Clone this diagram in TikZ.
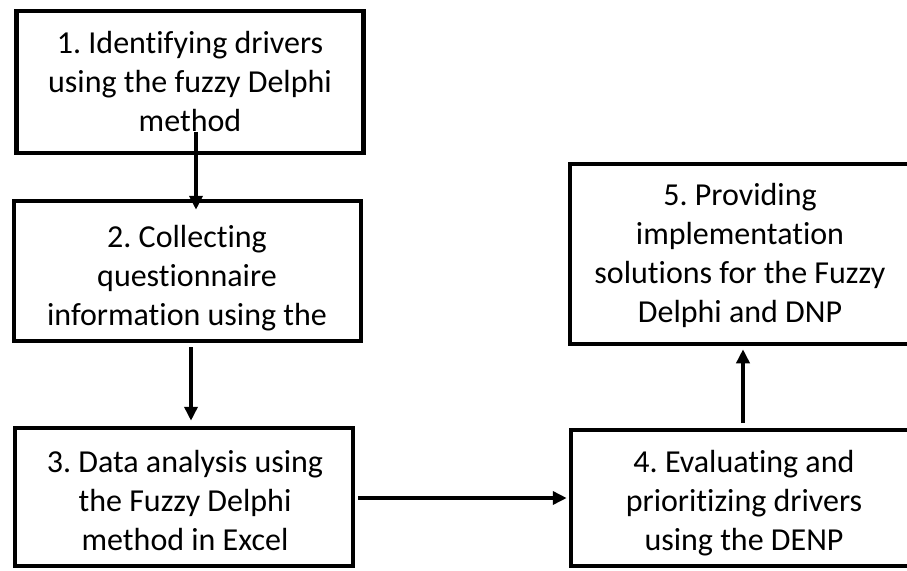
\documentclass[tikz,border=0pt]{standalone}
\usepackage{fontspec}
\setmainfont[Ligatures={NoCommon,NoContextual}]{Carlito}
\usetikzlibrary{arrows.meta,calc}
\frenchspacing
\tikzset{
  boxframe/.style={draw=black, line width=4.5pt, rectangle, inner sep=0pt},
  boxtext/.style={anchor=north, inner sep=0pt, align=center,
    font=\fontsize{32}{39}\selectfont\frenchspacing},
  flow/.style={line width=4.5pt, -{Triangle[length=14pt,width=13pt]}}
}
\begin{document}
\begin{tikzpicture}[x=1pt,y=-1pt]
\useasboundingbox (0,0) rectangle (907,570);
\clip (0,0) rectangle (907,570);
% boxes
\node[boxframe, minimum width=347pt, minimum height=142pt] (b1) at (190,82) {};
\node[boxframe, minimum width=347pt, minimum height=140pt] (b2) at (187.5,271) {};
\node[boxframe, minimum width=338pt, minimum height=138pt] (b3) at (184,497) {};
\node[boxframe, minimum width=347pt, minimum height=136pt] (b4) at (744.5,498) {};
\node[boxframe, minimum width=342pt, minimum height=180pt] (b5) at (741,254) {};
% texts
\node[boxtext] (t1) at (190,25.7) {\strut 1. Identifying drivers\\using the fuzzy Delphi\\method};
\node[boxtext] (t2) at (187,219.7) {\strut 2. Collecting\\questionnaire\\information using the};
\node[boxtext] (t3) at (185,444.7) {\strut 3. Data analysis using\\the Fuzzy Delphi\\method in Excel};
\node[boxtext] (t4) at (744,444.7) {\strut 4. Evaluating and\\prioritizing drivers\\using the DENP};
\node[boxtext] (t5) at (740,177.7) {\strut 5. Providing\\implementation\\solutions for the Fuzzy\\Delphi and DNP};
% connector end points
\coordinate (s12) at (196,132);
\coordinate (s23) at (191,347);
\coordinate (s34) at (358,498);
\coordinate (s45) at (743,423);
\coordinate (e12) at ($(s12 |- b2.north)+(0,11)$);
\coordinate (e23) at ($(s23 |- b3.north)+(0,-5)$);
\coordinate (e34) at ($(s34 -| b4.west)+(-2,0)$);
\coordinate (e45) at ($(s45 |- b5.south)+(0,3)$);
% connectors
\draw[flow] (s12) -- (e12);
\draw[flow] (s23) -- (e23);
\draw[flow] (s34) -- (e34);
\draw[flow] (s45) -- (e45);
\end{tikzpicture}
\end{document}
